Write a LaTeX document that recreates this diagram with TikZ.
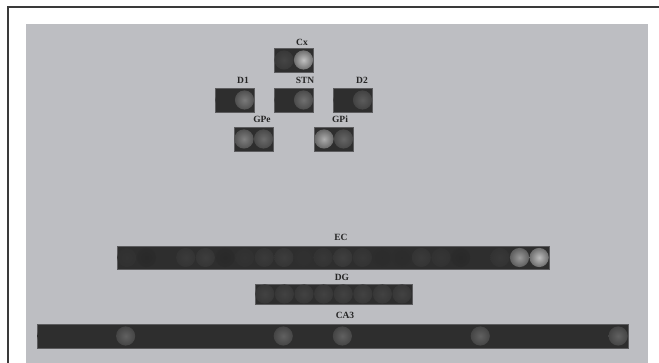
\documentclass[tikz,border=0pt]{standalone}
\usepackage{fontspec}
\setmainfont{Liberation Serif}
\definecolor{panelgray}{HTML}{BDBEC2}
\definecolor{bardark}{HTML}{2E2E2E}
\definecolor{barline}{HTML}{5C5C5E}
\definecolor{framecol}{HTML}{3A3A3A}
\tikzset{
  x=1pt, y=-1pt,
  bar/.style={fill=bardark, draw=barline, line width=0.9pt, inner sep=0pt, outer sep=0pt, anchor=north west},
  lab/.style={font=\fontsize{9.5}{10}\selectfont\bfseries, text=black!85, inner sep=0pt},
}
\newcommand{\blob}[3]{% x, y, gray level (percent white)
  \shade[inner color=white!#3!black, outer color=white!#3!black!45!bardark] (#1,#2) circle[radius=9.6];
}
\begin{document}
\begin{tikzpicture}
\useasboundingbox (0,0) rectangle (659,363);
\fill[white] (0,0) rectangle (659,363);
% frame
\draw[framecol, line width=1.6pt] (8,363) -- (8,7) -- (659,7);
\fill[panelgray] (26,24) rectangle (648,363);

% top two-cell boxes
\node[bar, minimum width=39, minimum height=24] (cx)  at (274,48) {};
\node[bar, minimum width=39, minimum height=24] (d1)  at (215,88) {};
\node[bar, minimum width=39, minimum height=24] (stn) at (274,88) {};
\node[bar, minimum width=39, minimum height=24] (d2)  at (333,88) {};
\node[bar, minimum width=39, minimum height=24] (gpe) at (234,127) {};
\node[bar, minimum width=39, minimum height=24] (gpi) at (314,127) {};

\blob{284}{60}{27}\blob{303.5}{60}{76}
\blob{225}{100}{18}\blob{244.5}{100}{48}
\blob{284}{100}{18}\blob{303.5}{100}{44}
\blob{343}{100}{18}\blob{362.5}{100}{36}
\blob{244}{139}{50}\blob{263.5}{139}{42}
\blob{324}{139}{68}\blob{343.5}{139}{40}

\node[lab] (lcx)  at (302,42)  {Cx};
\node[lab] (ld1)  at (243,80)  {D1};
\node[lab] (lstn) at (305,80)  {STN};
\node[lab] (ld2)  at (362,80)  {D2};
\node[lab] (lgpe) at (262,119) {GPe};
\node[lab] (lgpi) at (340,119) {GPi};

% EC
\node[bar, minimum width=432, minimum height=23] (ec) at (117,246) {};
\foreach \g [count=\i from 0] in {20,16,18,23,24,16,20,23,24,19,22,25,22,17,17,23,21,16,18,22,60,74} {
  \pgfmathsetmacro{\cxx}{117+9.8+19.636*\i}
  \blob{\cxx}{257.5}{\g}
}
\node[lab] (lec) at (341,237) {EC};

% DG
\node[bar, minimum width=157, minimum height=20] (dg) at (255,284) {};
\foreach \i in {0,...,7} {
  \pgfmathsetmacro{\cxx}{255+9.8+19.6*\i}
  \blob{\cxx}{294}{26}
}
\node[lab] (ldg) at (342,277) {DG};

% CA3
\node[bar, minimum width=591, minimum height=24] (ca) at (37,324) {};
\foreach \g [count=\i from 0] in {18,18,18,18,38,18,18,18,18,18,18,18,38,18,18,38,18,18,18,18,18,18,38,18,18,18,18,18,18,38} {
  \pgfmathsetmacro{\cxx}{37+9.85+19.7*\i}
  \blob{\cxx}{336}{\g}
}
\node[lab] (lca) at (345,315) {CA3};
\end{tikzpicture}
\end{document}
